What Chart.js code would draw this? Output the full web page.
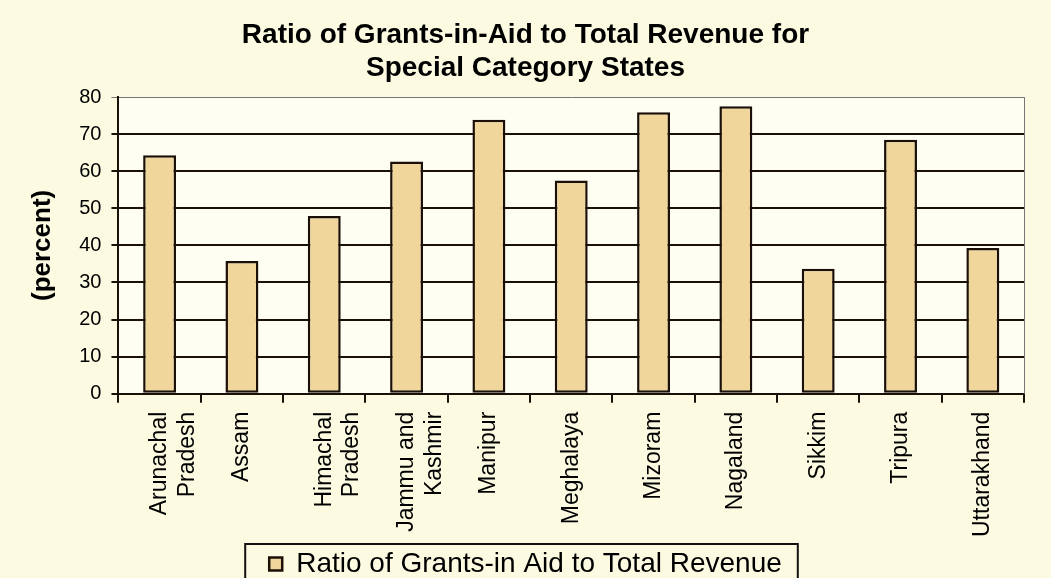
<!DOCTYPE html>
<html>
<head>
<meta charset="utf-8">
<script src="https://cdn.jsdelivr.net/npm/chart.js@4.4.1/dist/chart.umd.min.js"></script>
<style>
  body { margin: 0; background: #fcfbe2; }
  #wrap { width: 1051px; height: 578px; }
</style>
</head>
<body>
<div id="wrap"><canvas id="chart"></canvas></div>
<script>
const states = [
  ["Arunachal", "Pradesh"], "Assam", ["Himachal", "Pradesh"], ["Jammu and", "Kashmir"],
  "Manipur", "Meghalaya", "Mizoram", "Nagaland", "Sikkim", "Tripura", "Uttarakhand"
];
const ratio = [64.3, 35.8, 47.9, 62.6, 73.9, 57.5, 75.9, 77.5, 33.7, 68.5, 39.3];
const yTicks = [0, 10, 20, 30, 40, 50, 60, 70, 80];
const seriesName = "Ratio of Grants-in Aid to Total Revenue";

const FONT = "'Liberation Sans', Arial, sans-serif";

// cream page, paler plot area, thin grey frame on the right
const backdrop = {
  id: "backdrop",
  beforeDraw(chart) {
    const { ctx, chartArea: a } = chart;
    ctx.save();
    ctx.fillStyle = "#fcfbe2";
    ctx.fillRect(0, 0, chart.width, chart.height);
    ctx.fillStyle = "#fffef2";
    ctx.fillRect(a.left, a.top, a.right - a.left, a.bottom - a.top);
    ctx.restore();
  },
  afterDraw(chart) {
    const { ctx, chartArea: a } = chart;
    ctx.save();
    ctx.strokeStyle = "#777";
    ctx.lineWidth = 1;
    ctx.beginPath();
    ctx.moveTo(a.right + 0.5, a.top);
    ctx.lineTo(a.right + 0.5, a.bottom);
    ctx.stroke();
    // box round the legend
    const hb = chart.legend.legendHitBoxes[0];
    if (hb) {
      ctx.strokeStyle = "#111";
      ctx.lineWidth = 2;
      ctx.strokeRect(hb.left - 24, hb.top - 6, hb.width + 40, chart.height);
    }
    ctx.restore();
  }
};

new Chart(document.getElementById("chart"), {
  type: "bar",
  data: {
    labels: states,
    datasets: [{
      label: seriesName,
      data: ratio,
      backgroundColor: "#f1d69c",
      borderColor: "#1a1008",
      borderWidth: 2.5,
      borderSkipped: false,
      barPercentage: 0.8,
      categoryPercentage: 0.5
    }]
  },
  options: {
    responsive: true,
    maintainAspectRatio: false,
    animation: false,
    layout: { padding: { left: 27, right: 27, top: 9, bottom: -10 } },
    plugins: {
      title: {
        display: true,
        text: ["Ratio of Grants-in-Aid to Total Revenue for", "Special Category States"],
        color: "#000",
        font: { family: FONT, size: 28, weight: "bold", lineHeight: 1.18 },
        padding: { top: 10, bottom: 12 }
      },
      legend: {
        position: "bottom",
        labels: {
          color: "#000",
          font: { family: FONT, size: 28 },
          boxWidth: 13,
          boxHeight: 13,
          padding: 4
        }
      },
      tooltip: { enabled: false }
    },
    scales: {
      x: {
        grid: {
          drawOnChartArea: false,
          color: "#1a1008",
          lineWidth: 2,
          tickLength: 9
        },
        border: { color: "#1a1008", width: 2 },
        ticks: {
          color: "#000",
          font: { family: FONT, size: 23 },
          minRotation: 90,
          maxRotation: 90,
          autoSkip: false,
          padding: 9
        }
      },
      y: {
        min: 0,
        max: 80,
        afterBuildTicks(axis) { axis.ticks = yTicks.map(v => ({ value: v })); },
        title: {
          display: true,
          text: "(percent)",
          color: "#000",
          font: { family: FONT, size: 26, weight: "bold" },
          padding: { top: 0, bottom: 11 }
        },
        grid: {
          color: ctx => (ctx.tick && ctx.tick.value === 80 ? "#777" : "#1a1008"),
          lineWidth: ctx => (ctx.tick && ctx.tick.value === 80 ? 1 : 2),
          tickLength: 7
        },
        border: { color: "#1a1008", width: 2 },
        ticks: {
          color: "#000",
          font: { family: FONT, size: 20 },
          padding: 10
        }
      }
    }
  },
  plugins: [backdrop]
});
</script>
</body>
</html>
